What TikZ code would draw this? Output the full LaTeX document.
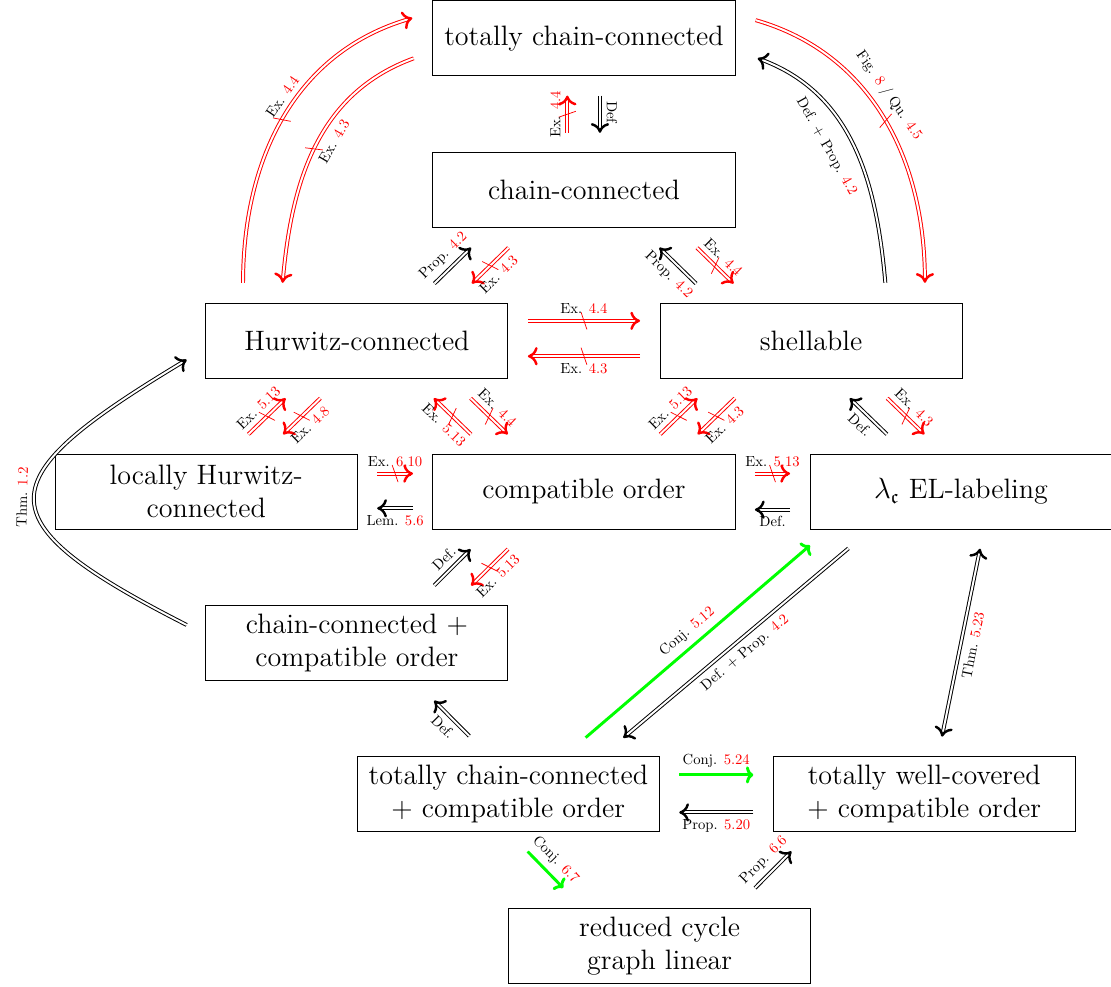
\documentclass[tikz,border=0pt]{standalone}
\usepackage{amssymb}
\usetikzlibrary{arrows.meta,decorations.markings}

\newcommand{\rnum}[1]{\textcolor{red}{#1}}

\begin{document}
\begin{tikzpicture}
	% Styles
	[
	>={Computer Modern Rightarrow[length=4pt, width=7.5pt, line width=1pt]},
	box/.style={rectangle, draw, minimum width=4.35cm, minimum height=1.08cm, align=center, font=\fontsize{11.5}{13.5}\selectfont},
	imp/.style={double, double distance=0.8pt, line width=0.4pt, ->},
	nimp/.style={imp, draw=red, postaction={decorate, decoration={markings, mark=at position 0.5 with {\draw[red, line width=0.3pt, -, shorten <=0pt, shorten >=0pt] (-1.2pt,3.5pt) -- (1.2pt,-3.5pt);}}}},
	conj/.style={draw=green, line width=1.2pt, -{To[length=3pt, width=7pt]}},
	lbl/.style={font=\fontsize{10}{12}\selectfont, scale=0.6, inner sep=4.5pt, sloped},
	diag/.style={shorten <=0.4cm, shorten >=0.4cm},
	hor/.style={shorten <=0.28cm, shorten >=0.28cm}
	]

	\useasboundingbox (0,0) rectangle (16.0,-14.2);

	% Nodes
	\node at (8.41,-0.55)	(tcc)		[box] {totally chain-connected};
	\node at (8.41,-2.74)	(cc)		[box] {chain-connected};
	\node at (5.14,-4.91)	(hur)		[box] {Hurwitz-connected};
	\node at (11.68,-4.91)	(shell)		[box] {shellable};
	\node at (2.97,-7.08)	(lhur)		[box] {locally Hurwitz-\\connected};
	\node at (8.41,-7.08)	(comp)		[box] {compatible order};
	\node at (13.84,-7.08)	(el)		[box] {$\lambda_{\mathfrak{c}}$ EL-labeling};
	\node at (5.14,-9.26)	(cccomp)	[box] {chain-connected +\\compatible order};
	\node at (7.32,-11.43)	(tcccomp)	[box] {totally chain-connected\\+ compatible order};
	\node at (13.31,-11.43)	(twccomp)	[box] {totally well-covered\\+ compatible order};
	\node at (9.50,-13.62)	(cycle)		[box] {reduced cycle\\graph linear};

	% Connections: top part
	\draw[nimp] ([xshift=-1.64cm,yshift=0.29cm]hur.north) to[out=90,in=196] node[lbl,above,pos=0.55] {Ex. \rnum{4.4}} ([xshift=-0.29cm,yshift=0.29cm]tcc.west);
	\draw[nimp] ([xshift=-0.27cm,yshift=-0.29cm]tcc.west) to[out=200,in=85] node[lbl,below,pos=0.45,inner sep=6pt] {Ex. \rnum{4.3}} ([xshift=-1.07cm,yshift=0.29cm]hur.north);
	\draw[nimp] ([xshift=0.29cm,yshift=0.26cm]tcc.east) to[out=-16,in=90] node[lbl,above,pos=0.45,inner sep=6pt] {Fig. \rnum{8} / Qu. \rnum{4.5}} ([xshift=1.64cm,yshift=0.29cm]shell.north);
	\draw[imp] ([xshift=1.07cm,yshift=0.29cm]shell.north) to[out=95,in=-20] node[lbl,below,pos=0.55,inner sep=12pt] {Def. + Prop. \rnum{4.2}} ([xshift=0.32cm,yshift=-0.29cm]tcc.east);
	\draw[nimp,hor] ([xshift=-0.24cm]cc.north) -- node[lbl,above] {Ex. \rnum{4.4}} ([xshift=-0.24cm]tcc.south);
	\draw[imp,hor] ([xshift=0.23cm]tcc.south) -- node[lbl,above] {Def.} ([xshift=0.23cm]cc.north);

	% chain-connected to Hurwitz-connected and shellable
	\draw[imp,diag] ([xshift=0.83cm]hur.north) -- node[lbl,above] {Prop. \rnum{4.2}} ([xshift=-1.34cm]cc.south);
	\draw[nimp,diag] ([xshift=-0.80cm]cc.south) -- node[lbl,below] {Ex. \rnum{4.3}} ([xshift=1.37cm]hur.north);
	\draw[imp,diag] ([xshift=-1.37cm]shell.north) -- node[lbl,below] {Prop. \rnum{4.2}} ([xshift=0.80cm]cc.south);
	\draw[nimp,diag] ([xshift=1.34cm]cc.south) -- node[lbl,above] {Ex. \rnum{4.4}} ([xshift=-0.83cm]shell.north);
	\draw[nimp,hor] ([yshift=0.29cm]hur.east) -- node[lbl,above] {Ex. \rnum{4.4}} ([yshift=0.29cm]shell.west);
	\draw[nimp,hor] ([yshift=-0.22cm]shell.west) -- node[lbl,below] {Ex. \rnum{4.3}} ([yshift=-0.22cm]hur.east);

	% middle row
	\draw[nimp,diag] ([xshift=0.32cm]lhur.north) -- node[lbl,above] {Ex. \rnum{5.13}} ([xshift=-0.74cm]hur.south);
	\draw[nimp,diag] ([xshift=-0.24cm]hur.south) -- node[lbl,below] {Ex. \rnum{4.8}} ([xshift=0.82cm]lhur.north);
	\draw[nimp,diag] ([xshift=-1.34cm]comp.north) -- node[lbl,below] {Ex. \rnum{5.13}} ([xshift=0.82cm]hur.south);
	\draw[nimp,diag] ([xshift=1.35cm]hur.south) -- node[lbl,above] {Ex. \rnum{4.4}} ([xshift=-0.81cm]comp.north);
	\draw[nimp,diag] ([xshift=0.81cm]comp.north) -- node[lbl,above] {Ex. \rnum{5.13}} ([xshift=-1.35cm]shell.south);
	\draw[nimp,diag] ([xshift=-0.81cm]shell.south) -- node[lbl,below] {Ex. \rnum{4.3}} ([xshift=1.35cm]comp.north);
	\draw[imp,diag] ([xshift=-0.78cm]el.north) -- node[lbl,below] {Def.} ([xshift=0.27cm]shell.south);
	\draw[nimp,diag] ([xshift=0.81cm]shell.south) -- node[lbl,above] {Ex. \rnum{4.3}} ([xshift=-0.24cm]el.north);
	\draw[nimp,hor] ([yshift=0.26cm]lhur.east) -- node[lbl,above] {Ex. \rnum{6.10}} ([yshift=0.26cm]comp.west);
	\draw[imp,hor] ([yshift=-0.24cm]comp.west) -- node[lbl,below] {Lem. \rnum{5.6}} ([yshift=-0.24cm]lhur.east);
	\draw[nimp,hor] ([yshift=0.26cm]comp.east) -- node[lbl,above] {Ex. \rnum{5.13}} ([yshift=0.26cm]el.west);
	\draw[imp,hor] ([yshift=-0.26cm]el.west) -- node[lbl,below] {Def.} ([yshift=-0.26cm]comp.east);

	% lower part
	\draw[imp,diag] ([xshift=0.83cm]cccomp.north) -- node[lbl,above] {Def.} ([xshift=-1.35cm]comp.south);
	\draw[nimp,diag] ([xshift=-0.81cm]comp.south) -- node[lbl,below] {Ex. \rnum{5.13}} ([xshift=1.36cm]cccomp.north);
	\draw[imp] ([xshift=-0.27cm,yshift=0.26cm]cccomp.west) to[out=153,in=211,looseness=2.25] node[lbl,above] {Thm. \rnum{1.2}} ([xshift=-0.27cm,yshift=-0.27cm]hur.west);
	\draw[imp,diag] ([xshift=-0.28cm]tcccomp.north) -- node[lbl,below] {Def.} ([xshift=0.83cm]cccomp.south);
	\draw[conj,shorten <=0.40cm,shorten >=0.35cm] ([xshift=0.81cm]tcccomp.north) -- node[lbl,above] {Conj. \rnum{5.12}} ([xshift=-1.91cm]el.south);
	\draw[imp,shorten <=0.42cm,shorten >=0.40cm] ([xshift=-1.30cm]el.south) -- node[lbl,below] {Def. + Prop. \rnum{4.2}} ([xshift=1.35cm]tcccomp.north);
	\draw[imp,<->,shorten <=0.28cm,shorten >=0.28cm] ([xshift=0.33cm]el.south) -- node[lbl,below] {Thm. \rnum{5.23}} ([xshift=0.20cm]twccomp.north);
	\draw[conj,hor] ([yshift=0.27cm]tcccomp.east) -- node[lbl,above] {Conj. \rnum{5.24}} ([yshift=0.27cm]twccomp.west);
	\draw[imp,hor] ([yshift=-0.27cm]twccomp.west) -- node[lbl,below] {Prop. \rnum{5.20}} ([yshift=-0.27cm]tcccomp.east);
	\draw[conj,diag] (tcccomp.south) -- node[lbl,above] {Conj. \rnum{6.7}} ([xshift=-1.11cm]cycle.north);
	\draw[imp,diag] ([xshift=1.09cm]cycle.north) -- node[lbl,above] {Prop. \rnum{6.6}} ([xshift=-1.63cm]twccomp.south);

\end{tikzpicture}
\end{document}
